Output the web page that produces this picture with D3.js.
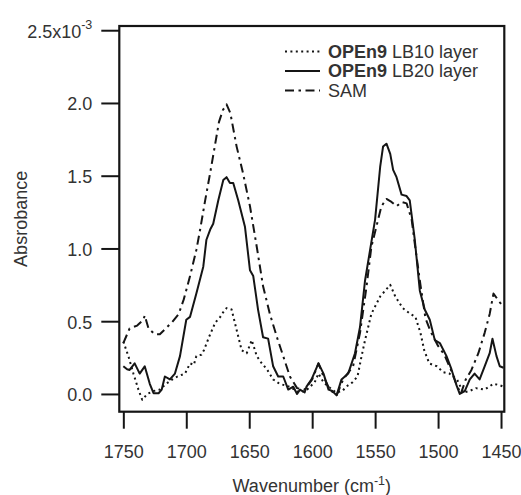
<!DOCTYPE html>
<html><head><meta charset="utf-8">
<script src="https://cdn.jsdelivr.net/npm/d3@7"></script>
<style>
html,body{margin:0;padding:0;background:#fff;}
svg{display:block;font-family:"Liberation Sans",Arial,sans-serif;}
</style></head>
<body><svg id="chart" width="521" height="495"></svg>
<script>
// ---- data ----
const lb10Wn  = [1750,1746,1742,1738,1735,1731,1726,1721,1716,1711,1707,1701,1697,1694,1692,1688,1686,1682,1677,1673,1670,1668,1664,1660,1656,1652,1648,1644,1640,1636,1631,1626,1618,1610,1604,1598,1595,1591,1587,1581,1576,1573,1568,1564,1561,1558,1553,1546,1542,1538,1534,1528,1522,1518,1514,1511,1507,1501,1496,1491,1485,1480,1475,1470,1463,1456,1451,1448];
const lb10Abs = [0.36,0.26,0.14,0.03,-0.04,0.00,0.02,0.03,0.07,0.10,0.12,0.14,0.21,0.20,0.26,0.27,0.30,0.39,0.49,0.53,0.57,0.59,0.58,0.44,0.30,0.28,0.37,0.26,0.21,0.17,0.10,0.07,0.05,0.01,0.03,0.08,0.14,0.08,0.05,0.01,0.02,0.05,0.08,0.12,0.25,0.37,0.55,0.67,0.71,0.75,0.67,0.59,0.55,0.53,0.42,0.30,0.21,0.19,0.15,0.14,0.10,0.01,0.02,0.04,0.03,0.07,0.06,0.05];

const lb20Wn  = [1750,1747,1745,1741,1737,1733,1729,1726,1722,1719.5,1717,1713,1709,1705,1700,1697,1692,1686.5,1684,1681,1678.6,1674.6,1670.6,1668,1665.3,1662.7,1658.7,1653.4,1649.4,1646.8,1643,1639,1635,1631,1627,1623,1619,1615,1612,1609.7,1606,1604.5,1600.5,1595,1591,1587,1584,1580.6,1576.7,1571.4,1566,1562,1558,1554,1550,1546,1543.7,1541,1538,1535.7,1533,1529,1525,1522.5,1518.5,1514.5,1510.6,1506.6,1502.6,1498.6,1493.3,1489.4,1485.4,1482.8,1478.8,1474.8,1471,1467,1463,1459,1456.8,1453.6,1451,1448];
const lb20Abs = [0.19,0.17,0.165,0.21,0.14,0.19,0.07,0.005,0.005,0.03,0.12,0.10,0.14,0.26,0.51,0.53,0.69,0.875,1.06,1.13,1.17,1.33,1.47,1.49,1.45,1.45,1.33,1.15,0.85,0.81,0.58,0.39,0.38,0.19,0.12,0.12,0.03,0.05,0.00,0.03,0.01,0.05,0.10,0.21,0.14,0.03,0.02,-0.01,0.10,0.14,0.28,0.46,0.78,0.99,1.20,1.56,1.70,1.72,1.65,1.54,1.49,1.37,1.36,1.33,1.06,0.71,0.58,0.51,0.37,0.35,0.26,0.17,0.06,0.00,0.02,0.10,0.14,0.10,0.19,0.28,0.38,0.26,0.19,0.18];

const samWn  = [1750,1745,1739,1734,1733,1730,1725,1721,1714,1711.6,1706,1702,1697,1692,1689,1685,1681,1677,1674,1671,1668,1665,1660,1655,1649.4,1644,1639,1633.6,1628,1623,1617.7,1612,1606,1600,1595,1591,1586,1580.6,1575.4,1567.5,1562,1556.8,1553,1549,1545,1541,1537,1533,1529,1525,1521,1518,1514,1510,1506,1500,1495,1490,1486,1482,1478,1473.5,1468,1463,1459,1456,1451,1448];
const samAbs = [0.35,0.45,0.47,0.51,0.54,0.45,0.41,0.41,0.47,0.49,0.55,0.65,0.81,0.99,1.13,1.33,1.52,1.72,1.87,1.95,1.99,1.93,1.70,1.52,1.29,1.01,0.74,0.55,0.39,0.26,0.12,0.04,0.03,0.10,0.21,0.12,0.03,-0.01,0.10,0.19,0.42,0.74,1.01,1.15,1.29,1.34,1.32,1.29,1.32,1.31,1.20,1.00,0.75,0.52,0.43,0.33,0.27,0.17,0.08,0.00,0.10,0.165,0.28,0.42,0.55,0.69,0.63,0.60];

const xTicks = [1750,1700,1650,1600,1550,1500,1450];
const yTicks = [0,0.5,1.0,1.5,2.0,2.5];
const yTickLabels = ["0.0","0.5","1.0","1.5","2.0","2.5x10"];
const yTopExponent = "-3";

const legendBold = ["OPEn9","OPEn9",""];
const legendRest = [" LB10 layer"," LB20 layer","SAM"];

// ---- layout ----
const svg = d3.select("#chart");
const L = 119.3, R = 504.3, T = 26, B = 411.7;
const x = d3.scaleLinear().domain([1753.2,1447.4]).range([L,R]);
const y = d3.scaleLinear().domain([-0.122,2.529]).range([B,T]);
const ink = "#151515", txt = "#333";

const series = [
  {wn: lb10Wn, ab: lb10Abs, dash: "2,3.4", cap: "butt"},
  {wn: lb20Wn, ab: lb20Abs, dash: null, cap: "butt"},
  {wn: samWn,  ab: samAbs,  dash: "9,4.5,2.5,4.5", cap: "butt"}
];
const line = d3.line().x(d=>x(d[0])).y(d=>y(d[1]));

series.forEach(s=>{
  svg.append("path")
    .datum(s.wn.map((w,i)=>[w,s.ab[i]]))
    .attr("d", line)
    .attr("fill","none")
    .attr("stroke", ink)
    .attr("stroke-width", 2)
    .attr("stroke-linejoin","round")
    .attr("stroke-dasharray", s.dash);
});

// frame
svg.append("rect").attr("x",L).attr("y",T).attr("width",R-L).attr("height",B-T)
  .attr("fill","none").attr("stroke",ink).attr("stroke-width",2.2);

// x axis
const xa = svg.append("g").attr("transform",`translate(0,${B})`)
  .call(d3.axisBottom(x).tickValues(xTicks).tickSize(17).tickPadding(16.5).tickFormat(d3.format("d")));
xa.select(".domain").remove();
xa.selectAll("line").attr("stroke",ink).attr("stroke-width",2);
xa.selectAll("text").attr("fill",txt).style("font-size","18px").style("font-family","Liberation Sans, Arial, sans-serif");

// y axis
const ya = svg.append("g").attr("transform",`translate(${L},0)`)
  .call(d3.axisLeft(y).tickValues(yTicks).tickSize(18).tickPadding(9).tickFormat((d,i)=>yTickLabels[i]));
ya.select(".domain").remove();
ya.selectAll("line").attr("stroke",ink).attr("stroke-width",2);
ya.selectAll("text").attr("fill",txt).attr("dy","0.38em").style("font-size","18px").style("font-family","Liberation Sans, Arial, sans-serif");
ya.selectAll("text").filter((d,i)=>i===yTicks.length-1)
  .append("tspan").attr("dy","-0.72em").style("font-size","12.5px").text(yTopExponent);

// axis titles
const xt = svg.append("text").attr("x",(L+R)/2).attr("y",492).attr("text-anchor","middle")
  .attr("fill",txt).style("font-size","18px");
xt.append("tspan").text("Wavenumber (cm");
xt.append("tspan").attr("dy","-7").style("font-size","12.5px").text("-1");
xt.append("tspan").attr("dy","7").text(")");

svg.append("text").attr("transform",`translate(27,${(T+B)/2}) rotate(-90)`)
  .attr("text-anchor","middle").attr("fill",txt).style("font-size","18px").text("Absrobance");

// legend
const lg = svg.append("g");
series.forEach((s,i)=>{
  const ly = 51.5 + i*19.5;
  lg.append("line").attr("x1",285).attr("x2",320).attr("y1",ly).attr("y2",ly)
    .attr("stroke",ink).attr("stroke-width",2).attr("stroke-dasharray",s.dash);
  const t = lg.append("text").attr("x",328).attr("y",ly+6).attr("fill",txt).style("font-size","18px");
  if (legendBold[i]) t.append("tspan").style("font-weight","bold").text(legendBold[i]);
  t.append("tspan").text(legendRest[i]).attr("xml:space","preserve").style("white-space","pre");
});
</script></body></html>
